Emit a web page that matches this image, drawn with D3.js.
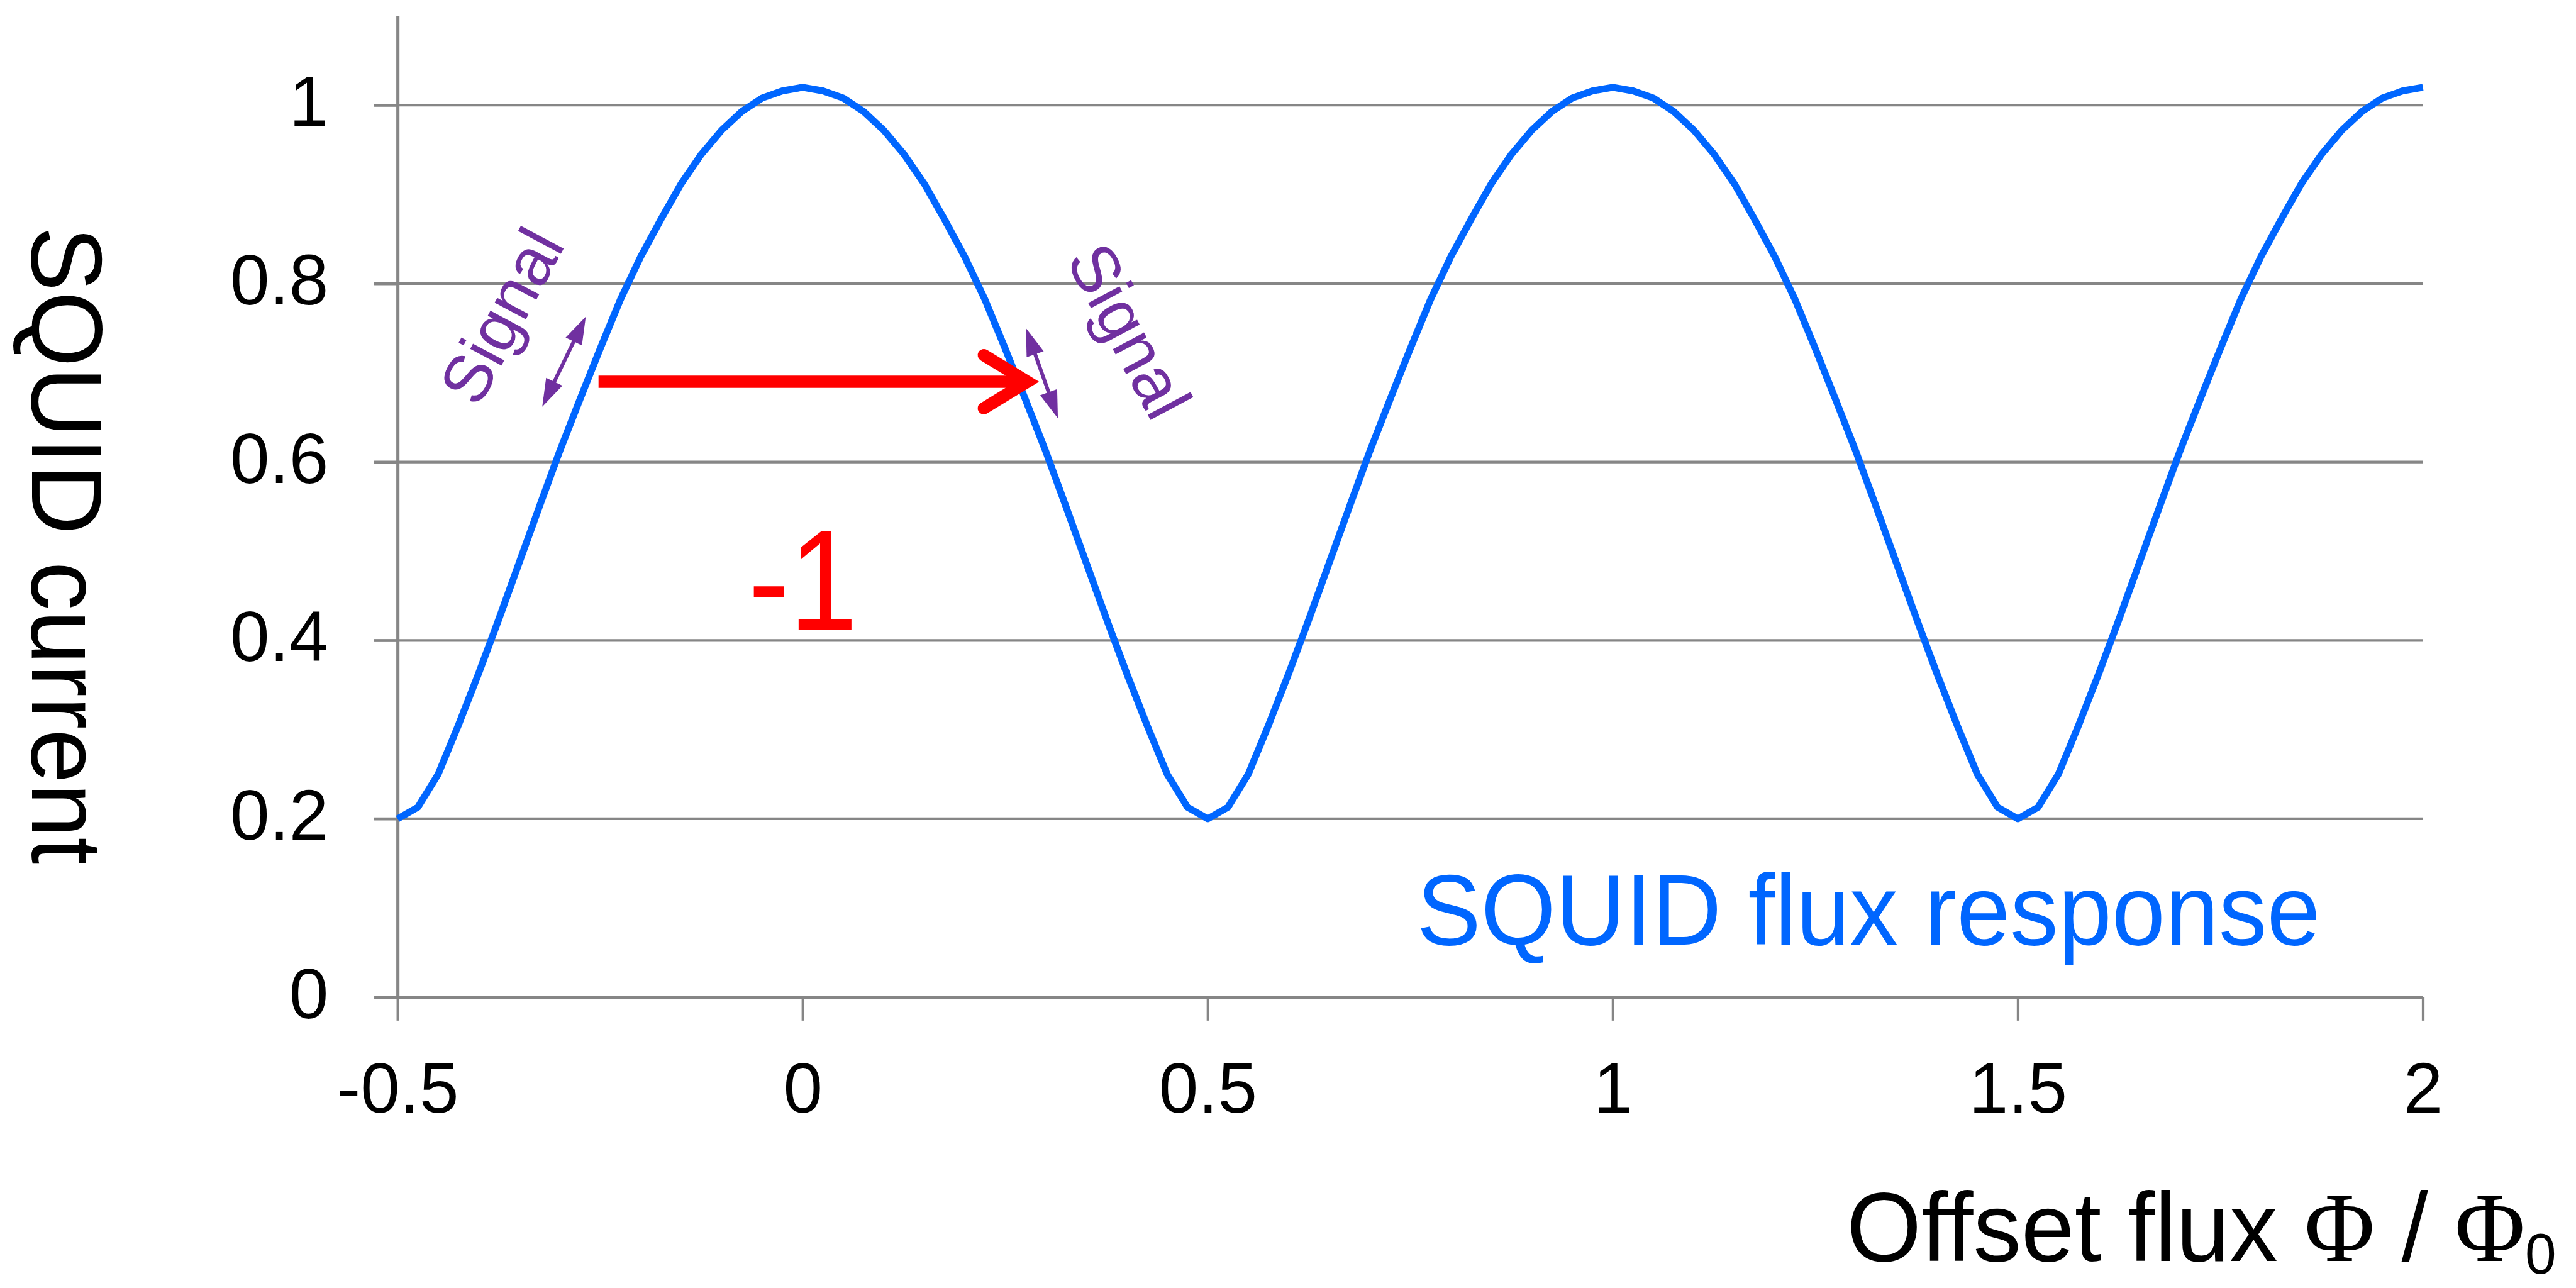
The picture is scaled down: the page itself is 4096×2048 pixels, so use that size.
<!DOCTYPE html>
<html lang="en">
<head>
  <meta charset="UTF-8">
  <script src="https://d3js.org/d3.v7.min.js"></script>
  <style>
    body {
      background-color: #fff;
      margin: 0;
      overflow: hidden;
    }
    svg {
      display: block;
    }
    text {
      font-family: "Liberation Sans", Arial, sans-serif;
    }
  </style>
</head>
<body>

<svg></svg>

<script>
  // offset flux samples (Phi / Phi0)
  const flux = [
    -0.5, -0.475, -0.45, -0.425, -0.4, -0.375, -0.35, -0.325, -0.3, -0.275,
    -0.25, -0.225, -0.2, -0.175, -0.15, -0.125, -0.1, -0.075, -0.05, -0.025,
    0, 0.025, 0.05, 0.075, 0.1, 0.125, 0.15, 0.175, 0.2, 0.225,
    0.25, 0.275, 0.3, 0.325, 0.35, 0.375, 0.4, 0.425, 0.45, 0.475,
    0.5, 0.525, 0.55, 0.575, 0.6, 0.625, 0.65, 0.675, 0.7, 0.725,
    0.75, 0.775, 0.8, 0.825, 0.85, 0.875, 0.9, 0.925, 0.95, 0.975,
    1, 1.025, 1.05, 1.075, 1.1, 1.125, 1.15, 1.175, 1.2, 1.225,
    1.25, 1.275, 1.3, 1.325, 1.35, 1.375, 1.4, 1.425, 1.45, 1.475,
    1.5, 1.525, 1.55, 1.575, 1.6, 1.625, 1.65, 1.675, 1.7, 1.725,
    1.75, 1.775, 1.8, 1.825, 1.85, 1.875, 1.9, 1.925, 1.95, 1.975,
    2
  ];

  // SQUID current
  const current = [
    0.200, 0.213, 0.250, 0.305, 0.363, 0.424, 0.487, 0.550, 0.612, 0.670,
    0.727, 0.782, 0.830, 0.872, 0.912, 0.945, 0.972, 0.993, 1.008, 1.016,
    1.020, 1.016, 1.008, 0.993, 0.972, 0.945, 0.912, 0.872, 0.830, 0.782,
    0.727, 0.670, 0.612, 0.550, 0.487, 0.424, 0.363, 0.305, 0.250, 0.213,
    0.200, 0.213, 0.250, 0.305, 0.363, 0.424, 0.487, 0.550, 0.612, 0.670,
    0.727, 0.782, 0.830, 0.872, 0.912, 0.945, 0.972, 0.993, 1.008, 1.016,
    1.020, 1.016, 1.008, 0.993, 0.972, 0.945, 0.912, 0.872, 0.830, 0.782,
    0.727, 0.670, 0.612, 0.550, 0.487, 0.424, 0.363, 0.305, 0.250, 0.213,
    0.200, 0.213, 0.250, 0.305, 0.363, 0.424, 0.487, 0.550, 0.612, 0.670,
    0.727, 0.782, 0.830, 0.872, 0.912, 0.945, 0.972, 0.993, 1.008, 1.016,
    1.020
  ];

  const fluxTicks = [-0.5, 0, 0.5, 1, 1.5, 2];
  const fluxTickLabels = ['-0.5', '0', '0.5', '1', '1.5', '2'];
  const currentTicks = [0, 0.2, 0.4, 0.6, 0.8, 1];
  const currentTickLabels = ['0', '0.2', '0.4', '0.6', '0.8', '1'];

  // annotations, in data units
  const feedbackArrow = { from: [-0.252, 0.69], to: [0.28, 0.69] };
  const signalArrows = [
    { from: [-0.3215, 0.662], to: [-0.2677, 0.763] },
    { from: [0.2756, 0.750], to: [0.315, 0.649] }
  ];
  const signalLabels = [
    { at: [-0.372, 0.764], angle: -62 },
    { at: [0.4035, 0.747], angle: 62 }
  ];

  // reference size 4846x2423, drawn into 4096x2048 via viewBox
  const W = 4846, H = 2423;
  const svg = d3.select('svg')
    .attr('width', 4096)
    .attr('height', 2048)
    .attr('viewBox', `0 0 ${W} ${H}`);

  const x = d3.scaleLinear().domain([-0.5, 2]).range([748, 4558]);
  const y = d3.scaleLinear().domain([0, 1.1]).range([1876, 30]);

  const grey = '#868686';

  // gridlines
  svg.append('g')
    .selectAll('line')
    .data(currentTicks.filter(d => d > 0))
    .enter().append('line')
    .attr('x1', x(-0.5) - 44)
    .attr('x2', x(2))
    .attr('y1', d => y(d))
    .attr('y2', d => y(d))
    .attr('stroke', grey)
    .attr('stroke-width', 5);

  // axes
  const xAxis = svg.append('g')
    .attr('transform', `translate(0,${y(0)})`)
    .call(d3.axisBottom(x)
      .tickValues(fluxTicks)
      .tickFormat((d, i) => fluxTickLabels[i])
      .tickSize(44)
      .tickSizeOuter(0)
      .tickPadding(78));

  const yAxis = svg.append('g')
    .attr('transform', `translate(${x(-0.5)},0)`)
    .call(d3.axisLeft(y)
      .tickValues(currentTicks)
      .tickFormat((d, i) => currentTickLabels[i])
      .tickSize(44)
      .tickSizeOuter(0)
      .tickPadding(86));

  [xAxis, yAxis].forEach(g => {
    g.select('.domain').attr('stroke', grey).attr('stroke-width', 6);
    g.selectAll('.tick line').attr('stroke', grey).attr('stroke-width', 5);
    g.selectAll('.tick text')
      .attr('fill', '#000')
      .style('font-family', '"Liberation Sans", Arial, sans-serif')
      .style('font-size', '133px');
  });
  yAxis.selectAll('.tick text').attr('dy', '0.29em');

  // flux response curve
  const line = d3.line()
    .x((d, i) => x(flux[i]))
    .y(d => y(d));

  svg.append('path')
    .datum(current)
    .attr('d', line)
    .attr('fill', 'none')
    .attr('stroke', '#0066FF')
    .attr('stroke-width', 13)
    .attr('stroke-linejoin', 'round');

  // red feedback arrow
  const red = '#FF0000';
  const ax1 = x(feedbackArrow.from[0]), ax2 = x(feedbackArrow.to[0]);
  const ay = y(feedbackArrow.from[1]);
  svg.append('line')
    .attr('x1', ax1).attr('x2', ax2 - 12)
    .attr('y1', ay).attr('y2', ay)
    .attr('stroke', red)
    .attr('stroke-width', 23);
  svg.append('path')
    .attr('d', `M${ax2 - 86},${ay - 50}L${ax2 - 4},${ay}L${ax2 - 86},${ay + 50}`)
    .attr('fill', 'none')
    .attr('stroke', red)
    .attr('stroke-width', 23)
    .attr('stroke-linecap', 'round')
    .attr('stroke-linejoin', 'miter');

  // purple double arrows
  const purple = '#7030A0';
  function head(px, py, ux, uy) {
    const len = 52, half = 17;
    const bx = px - ux * len, by = py - uy * len;
    return `M${px},${py}L${bx - uy * half},${by + ux * half}L${bx + uy * half},${by - ux * half}Z`;
  }
  signalArrows.forEach(a => {
    const x1 = x(a.from[0]), y1 = y(a.from[1]);
    const x2 = x(a.to[0]), y2 = y(a.to[1]);
    const L = Math.hypot(x2 - x1, y2 - y1);
    const ux = (x2 - x1) / L, uy = (y2 - y1) / L;
    svg.append('line')
      .attr('x1', x1 + ux * 40).attr('y1', y1 + uy * 40)
      .attr('x2', x2 - ux * 40).attr('y2', y2 - uy * 40)
      .attr('stroke', purple)
      .attr('stroke-width', 7);
    svg.append('path').attr('d', head(x2, y2, ux, uy)).attr('fill', purple);
    svg.append('path').attr('d', head(x1, y1, -ux, -uy)).attr('fill', purple);
  });

  signalLabels.forEach(s => {
    svg.append('text')
      .attr('transform', `translate(${x(s.at[0])},${y(s.at[1])}) rotate(${s.angle})`)
      .attr('text-anchor', 'middle')
      .attr('dy', '0.35em')
      .attr('fill', purple)
      .style('font-size', '126px')
      .text('Signal');
  });

  // "-1" gain label
  svg.append('text')
    .attr('x', x(-0.067))
    .attr('y', y(0.412))
    .attr('fill', red)
    .attr('textLength', 205)
    .attr('lengthAdjust', 'spacingAndGlyphs')
    .style('font-size', '267px')
    .text('-1');

  // series label
  svg.append('text')
    .attr('x', x(0.758))
    .attr('y', y(0.059))
    .attr('fill', '#0066FF')
    .attr('textLength', 1700)
    .attr('lengthAdjust', 'spacingAndGlyphs')
    .style('font-size', '188px')
    .text('SQUID flux response');

  // axis titles
  svg.append('text')
    .attr('transform', 'translate(60,1026) rotate(90)')
    .attr('text-anchor', 'middle')
    .attr('textLength', 1200)
    .attr('lengthAdjust', 'spacingAndGlyphs')
    .style('font-size', '188px')
    .text('SQUID current');

  const xt = svg.append('text')
    .attr('x', 3474)
    .attr('y', 2372)
    .attr('textLength', 1335)
    .attr('lengthAdjust', 'spacingAndGlyphs')
    .style('font-size', '185px');
  xt.append('tspan').text('Offset flux ');
  xt.append('tspan').style('font-family', '"Liberation Serif", "Times New Roman", serif').text('Φ');
  xt.append('tspan').text(' / ');
  xt.append('tspan').style('font-family', '"Liberation Serif", "Times New Roman", serif').text('Φ');
  xt.append('tspan').attr('dy', 24).style('font-size', '108px').text('0');
</script>

</body>
</html>
